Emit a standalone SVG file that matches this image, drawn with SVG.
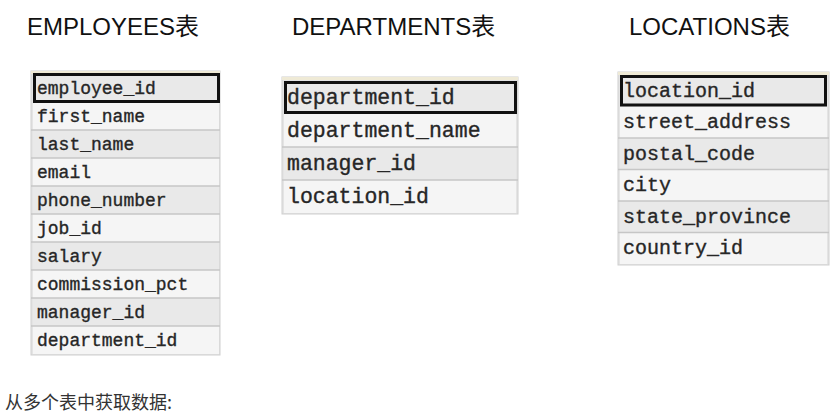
<svg xmlns="http://www.w3.org/2000/svg" width="840" height="414" viewBox="0 0 840 414">
<style>
.title{font-family:"Liberation Sans",Arial,"Noto Sans CJK SC",sans-serif;font-size:24px;fill:#111}
.frame{fill:#e4e4e4;stroke:#cfcfcf;stroke-width:1}
.lt{fill:#f5f5f5}
.dk{fill:#e9e9e9}
.sep{stroke:#c6c6c6;stroke-width:1.5}
.key{fill:none;stroke:#111;stroke-width:3}
.col{font-family:"Liberation Mono","Courier New",monospace;fill:#262626;stroke:#262626;stroke-width:0.35}
.e{font-size:18px}
.d{font-size:21.5px}
.l{font-size:20px}
.cap{font-family:"Noto Sans CJK SC","Noto Sans",sans-serif;font-size:18px;fill:#333}
</style>
<rect width="840" height="414" fill="#fff"/>
<text class="title" x="27" y="35">EMPLOYEES表</text>
<text class="title" x="292" y="35">DEPARTMENTS表</text>
<text class="title" x="629" y="35">LOCATIONS表</text>

<g id="employees">
<rect class="frame" x="31" y="71" width="189" height="284"/>
<rect x="31" y="71" width="189" height="3" fill="#efead6"/>
<rect class="dk" x="33" y="74" width="186" height="28"/>
<rect class="lt" x="33" y="102" width="186" height="28"/>
<rect class="dk" x="33" y="130" width="186" height="28"/>
<rect class="lt" x="33" y="158" width="186" height="28"/>
<rect class="dk" x="33" y="186" width="186" height="28"/>
<rect class="lt" x="33" y="214" width="186" height="28"/>
<rect class="dk" x="33" y="242" width="186" height="28"/>
<rect class="lt" x="33" y="270" width="186" height="28"/>
<rect class="dk" x="33" y="298" width="186" height="28"/>
<rect class="lt" x="33" y="326" width="186" height="28"/>
<path class="sep" d="M31 130H220M31 158H220M31 186H220M31 214H220M31 242H220M31 270H220M31 298H220M31 326H220"/>
<rect class="key" x="34.5" y="74.5" width="184" height="27"/>
<text class="col e" x="37" y="94">employee_id</text>
<text class="col e" x="37" y="122">first_name</text>
<text class="col e" x="37" y="150">last_name</text>
<text class="col e" x="37" y="178">email</text>
<text class="col e" x="37" y="206">phone_number</text>
<text class="col e" x="37" y="234">job_id</text>
<text class="col e" x="37" y="262">salary</text>
<text class="col e" x="37" y="290">commission_pct</text>
<text class="col e" x="37" y="318">manager_id</text>
<text class="col e" x="37" y="346">department_id</text>
</g>

<g id="departments">
<rect class="frame" x="282" y="77" width="236" height="137"/>
<rect x="282" y="77" width="236" height="3" fill="#efead6"/>
<rect class="dk" x="284" y="81" width="232" height="33"/>
<rect class="lt" x="284" y="114" width="232" height="33"/>
<rect class="dk" x="284" y="147" width="232" height="33"/>
<rect class="lt" x="284" y="180" width="232" height="33"/>
<path class="sep" d="M282 147H518M282 180H518"/>
<rect class="key" x="285.5" y="82.5" width="230" height="30"/>
<text class="col d" x="287" y="104">department_id</text>
<text class="col d" x="287" y="137">department_name</text>
<text class="col d" x="287" y="170">manager_id</text>
<text class="col d" x="287" y="203">location_id</text>
</g>

<g id="locations">
<rect class="frame" x="618" y="72" width="211" height="193"/>
<rect x="618" y="72" width="211" height="3" fill="#efead6"/>
<rect class="dk" x="620" y="75" width="207" height="31.5"/>
<rect class="lt" x="620" y="106.5" width="207" height="31.5"/>
<rect class="dk" x="620" y="138" width="207" height="31.5"/>
<rect class="lt" x="620" y="169.5" width="207" height="31.5"/>
<rect class="dk" x="620" y="201" width="207" height="31.5"/>
<rect class="lt" x="620" y="232.5" width="207" height="31.5"/>
<path class="sep" d="M618 138H829M618 169.5H829M618 201H829M618 232.5H829"/>
<rect class="key" x="621.5" y="76.5" width="204" height="28.5"/>
<text class="col l" x="623" y="97">location_id</text>
<text class="col l" x="623" y="128">street_address</text>
<text class="col l" x="623" y="160">postal_code</text>
<text class="col l" x="623" y="191">city</text>
<text class="col l" x="623" y="223">state_province</text>
<text class="col l" x="623" y="254">country_id</text>
</g>

<text class="cap" x="5" y="409">从多个表中获取数据:</text>
</svg>
